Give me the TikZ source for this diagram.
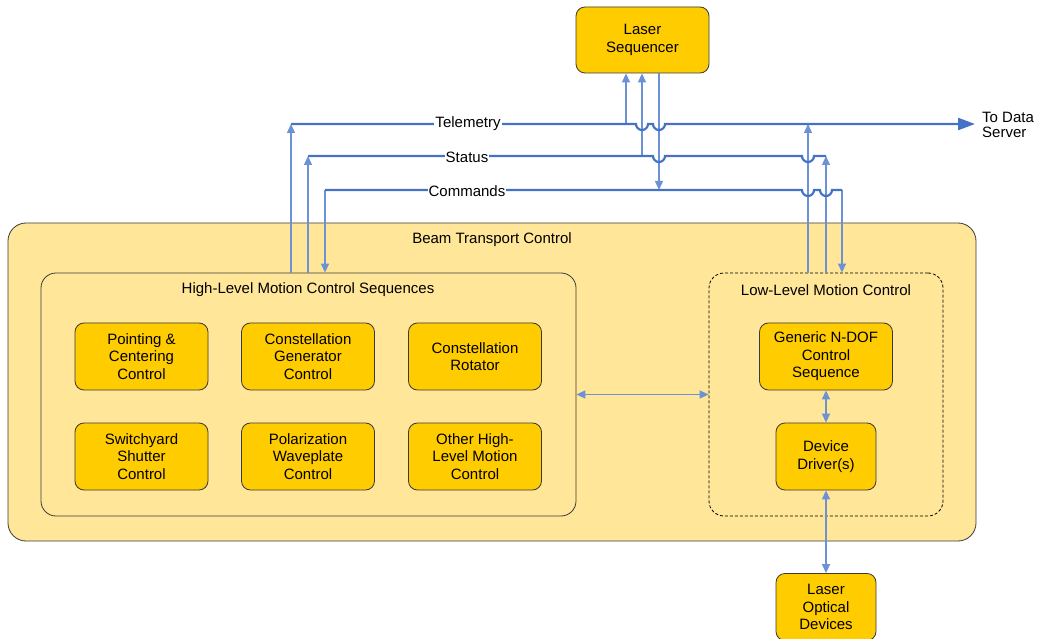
\documentclass[tikz,border=0pt]{standalone}
\usepackage{fontspec}
\setmainfont{Liberation Sans}
\usetikzlibrary{arrows.meta}
\definecolor{boxfill}{HTML}{FFCC00}
\definecolor{panel}{HTML}{FFE699}
\definecolor{mainline}{HTML}{4472C4}
\definecolor{thinline}{HTML}{6A92D4}
\definecolor{edge}{HTML}{3A3A3A}
\begin{document}
\begin{tikzpicture}[x=1pt,y=-1pt,
  font=\fontsize{15}{17.5}\selectfont,
  blk/.style={draw=edge, line width=0.8pt, fill=boxfill, rounded corners=9pt, align=center, inner sep=0pt, minimum width=133pt, minimum height=67pt},
  smallblk/.style={blk, minimum width=100pt},
  panelbox/.style={draw=edge, line width=0.8pt, fill=panel, inner sep=0pt},
  title/.style={inner sep=0pt},
  mainl/.style={draw=mainline, line width=2.2pt},
  vline/.style={draw=thinline, line width=1.3pt},
  tip/.style={-{Triangle[length=9pt,width=8pt]}},
  dtip/.style={{Triangle[length=9pt,width=8pt]}-{Triangle[length=9pt,width=8pt]}},
  lbl/.style={fill=white, inner sep=1pt}
]
\useasboundingbox (0,0) rectangle (1037,639);

% containers
\node[panelbox, rounded corners=18pt, minimum width=968pt, minimum height=318pt] (btc) at (492,382) {};
\node[title] (btct) at (492,240) {Beam Transport Control};
\node[panelbox, rounded corners=15pt, minimum width=535pt, minimum height=243pt] (hl) at (308.5,394.5) {};
\node[title] (hlt) at (308,290) {High-Level Motion Control Sequences};
\node[panelbox, draw=black, dash pattern=on 3pt off 2pt, rounded corners=15pt, minimum width=234pt, minimum height=243pt] (ll) at (826,394.5) {};
\node[title] (llt) at (826,290) {Low-Level Motion Control};

% blocks
\node[blk, minimum height=66pt] (seq) at (642.5,40) {Laser\\Sequencer};
\node[blk] (pc) at (141.5,356.5) {Pointing \&\\Centering\\Control};
\node[blk] (cg) at (308,356.5) {Constellation\\Generator\\Control};
\node[blk] (cr) at (475,356.5) {Constellation\\Rotator};
\node[blk] (ss) at (141.5,456.5) {Switchyard\\Shutter\\Control};
\node[blk] (pw) at (308,456.5) {Polarization\\Waveplate\\Control};
\node[blk] (oh) at (475,456.5) {Other High-\\Level Motion\\Control};
\node[blk] (gen) at (826,356.5) {Generic N-DOF\\Control\\Sequence};
\node[smallblk] (dev) at (826,456.5) {Device\\Driver(s)};
\node[smallblk] (lod) at (826,607) {Laser\\Optical\\Devices};

% coordinates on the bus lines
\coordinate (telL) at (291,124);
\coordinate (telS) at (626,124);
\coordinate (telH1) at (642,124);
\coordinate (telH2) at (659,124);
\coordinate (telR) at (808,124);
\coordinate (telE) at (975,124);
\coordinate (staL) at (308,156);
\coordinate (staS) at (642,156);
\coordinate (staH1) at (659,156);
\coordinate (staH2) at (808,156);
\coordinate (staR) at (826,156);
\coordinate (comL) at (325,190);
\coordinate (comS) at (659,190);
\coordinate (comH1) at (808,190);
\coordinate (comH2) at (826,190);
\coordinate (comR) at (842,190);

% vertical connectors
\draw[vline, tip] (telL |- hl.north) -- (telL);
\draw[vline, tip] (staL |- hl.north) -- (staL);
\draw[vline, tip] (comL) -- (comL |- hl.north);
\draw[vline, tip] (telS) -- (telS |- seq.south);
\draw[vline, tip] (staS) -- (staS |- seq.south);
\draw[vline, tip] (comS |- seq.south) -- (comS);
\draw[vline, tip] (telR |- ll.north) -- (telR);
\draw[vline, tip] (staR |- ll.north) -- (staR);
\draw[vline, tip] (comR) -- (comR |- ll.north);

% bus lines with hops
\draw[mainl, -{Triangle[length=17pt,width=12pt]}] (telL)
  -- ([xshift=-6pt]telH1) arc[start angle=180, end angle=360, radius=6pt]
  -- ([xshift=-6pt]telH2) arc[start angle=180, end angle=360, radius=6pt]
  -- (telE);
\draw[mainl] (staL)
  -- ([xshift=-6pt]staH1) arc[start angle=180, end angle=360, radius=6pt]
  -- ([xshift=-6pt]staH2) arc[start angle=180, end angle=360, radius=6pt]
  -- (staR);
\draw[mainl] (comL)
  -- ([xshift=-6pt]comH1) arc[start angle=180, end angle=360, radius=6pt]
  -- ([xshift=-6pt]comH2) arc[start angle=180, end angle=360, radius=6pt]
  -- (comR);

\node[lbl] (tell) at (468,124) {Telemetry};
\node[lbl] (stal) at (467,157) {Status};
\node[lbl] (coml) at (467,191) {Commands};
\node[anchor=west, align=left, inner sep=0pt, font=\fontsize{15}{15.5}\selectfont] (tds) at (982,125) {To Data\\Server};

% internal arrows
\draw[vline, dtip] (hl.east) -- (ll.west);
\draw[vline, dtip] (gen.south) -- (dev.north);
\draw[vline, dtip] (dev.south) -- (lod.north);
\end{tikzpicture}
\end{document}
